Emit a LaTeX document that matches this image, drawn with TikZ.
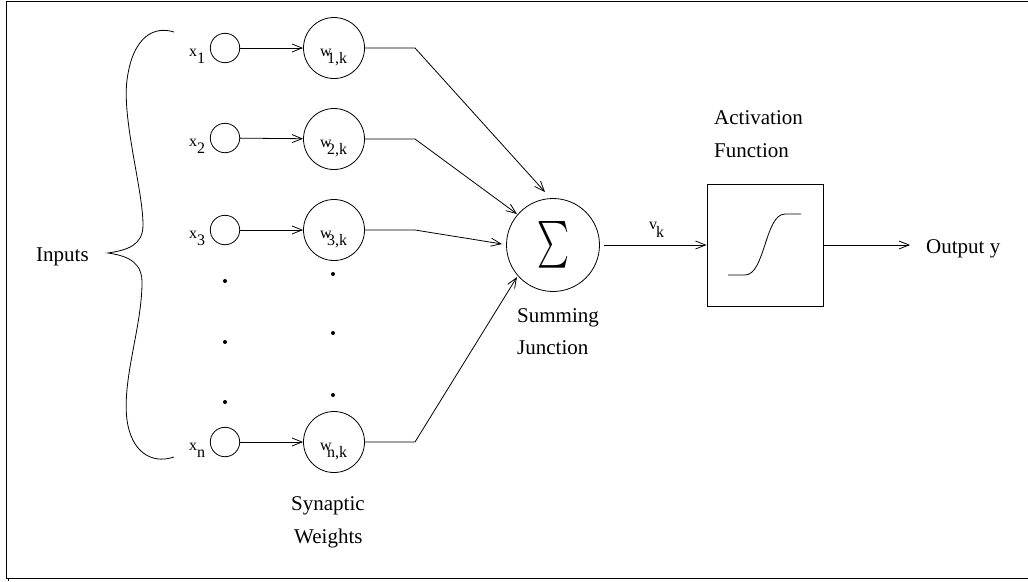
\documentclass[tikz,border=0pt]{standalone}
\usepackage{fontspec}
\usepackage{graphicx}
\setmainfont{Liberation Serif}
\usetikzlibrary{arrows.meta,calc}

\tikzset{
  px/.style={x=1pt,y=-1pt},
  thin line/.style={line width=0.8pt},
  incirc/.style={circle,draw,thin line,minimum size=29.4pt,inner sep=0pt},
  wcirc/.style={circle,draw,thin line,minimum size=61pt,inner sep=0pt},
  sumcirc/.style={circle,draw,thin line,minimum size=93pt,inner sep=0pt},
  actbox/.style={rectangle,draw,thin line,minimum width=116pt,minimum height=122pt,inner sep=0pt},
  conn/.style={draw,thin line,-{Straight Barb[length=10pt,width=8pt,line width=0.8pt]}},
  wire/.style={draw,thin line},
  biglbl/.style={anchor=base west,inner sep=0pt,font=\fontsize{21}{21}\selectfont},
  smalllbl/.style={anchor=base west,inner sep=0pt,font=\fontsize{16}{16}\selectfont},
  dotmark/.style={circle,fill,minimum size=4pt,inner sep=0pt},
}

\begin{document}
\begin{tikzpicture}[px]
\useasboundingbox (0,0) rectangle (1028,581);

% open frame
\draw[line width=1.2pt] (1028,1.5) -- (6.5,1.5) -- (6.5,578.5) -- (1028,578.5);
\draw[line width=1pt] (8,578.5) -- (8,581);

% input circles
\node[incirc] (x1) at (225,48) {};
\node[incirc] (x2) at (225,138) {};
\node[incirc] (x3) at (225,230) {};
\node[incirc] (xn) at (225,442) {};

% synaptic weight circles
\node[wcirc] (w1) at (334,48) {};
\node[wcirc] (w2) at (334,139) {};
\node[wcirc] (w3) at (334,230) {};
\node[wcirc] (wn) at (334,442) {};

% input labels
\node[smalllbl] (lx1) at (189,56) {x};  \node[smalllbl] (lx1s) at (197,63) {1};
\node[smalllbl] (lx2) at (189,146) {x}; \node[smalllbl] (lx2s) at (197,153) {2};
\node[smalllbl] (lx3) at (189,238) {x}; \node[smalllbl] (lx3s) at (197,245) {3};
\node[smalllbl] (lxn) at (189,450) {x}; \node[smalllbl] (lxns) at (197,457) {n};

% weight labels
\node[smalllbl] (lw1) at (320,56) {w};  \node[smalllbl] (lw1s) at (327,63) {1,k};
\node[smalllbl] (lw2) at (320,147) {w}; \node[smalllbl] (lw2s) at (327,154) {2,k};
\node[smalllbl] (lw3) at (320,238) {w}; \node[smalllbl] (lw3s) at (327,245) {3,k};
\node[smalllbl] (lwn) at (320,450) {w}; \node[smalllbl] (lwns) at (327,457) {n,k};

% ellipsis dots
\node[dotmark] (dx1) at (225,281) {};
\node[dotmark] (dx2) at (225,342) {};
\node[dotmark] (dx3) at (225,402) {};
\node[dotmark] (dw1) at (333,274) {};
\node[dotmark] (dw2) at (333,333) {};
\node[dotmark] (dw3) at (333,395) {};

% summing junction
\node[sumcirc] (sum) at (553,245) {};
\node[inner sep=0pt] (sigma) at (553,245) {\resizebox{32pt}{35pt}{$\sum$}};

% activation function box with sigmoid
\node[actbox] (act) at (765,245) {};
\draw[thin line,shift={(act.center)}] (-37,30) -- (-20,30)
  .. controls (0,30) and (0,-31) .. (20,-31) -- (36,-31);

% text labels
\node[biglbl] (inputs) at (36,261) {Inputs};
\node[biglbl] (syn1) at (291,510) {Synaptic};
\node[biglbl] (syn2) at (294,543) {Weights};
\node[biglbl] (sumlbl1) at (517,322) {Summing};
\node[biglbl] (sumlbl2) at (517,354) {Junction};
\node[biglbl] (actlbl1) at (714,124) {Activation};
\node[biglbl] (actlbl2) at (714,157) {Function};
\node[biglbl] (outlbl) at (926,253) {Output y};
\node[smalllbl] (lv) at (649,229) {v};
\node[smalllbl] (lvs) at (656,237) {k};

% inputs to weights
\path[conn] (x1) -- (w1);
\path[conn] (x2) -- (w2);
\path[conn] (x3) -- (w3);
\path[conn] (xn) -- (wn);

% weights to summing junction
\coordinate (b1) at (415,48);
\coordinate (b2) at (415,139);
\coordinate (b3) at (415,230);
\coordinate (bn) at (415,442);
\path[conn] (w1.east) -- (b1) -- ($(sum.center)+(-8,-53)$);
\path[conn] (w2.east) -- (b2) -- ($(sum.center)+(-36,-31)$);
\path[conn] (w3.east) -- (b3) -- ($(sum.center)+(-51,-1)$);
\path[conn] (wn.east) -- (bn) -- ($(sum.center)+(-36,32)$);

% junction to activation to output
\path[conn] ($(sum.east)+(4,0)$) -- (act.west);
\coordinate (outend) at (910,245);
\path[conn] (act.east) -- (outend);

% brace grouping the inputs
\draw[thin line] (174,32) .. controls (155,26) and (133,35) .. (127,80)
  .. controls (122,120) and (143,190) .. (143,225)
  .. controls (143,245) and (128,250) .. (108,253)
  .. controls (128,256) and (143,262) .. (142,285)
  .. controls (141,330) and (122,380) .. (127,420)
  .. controls (131,450) and (150,465) .. (174,457);
\end{tikzpicture}
\end{document}
